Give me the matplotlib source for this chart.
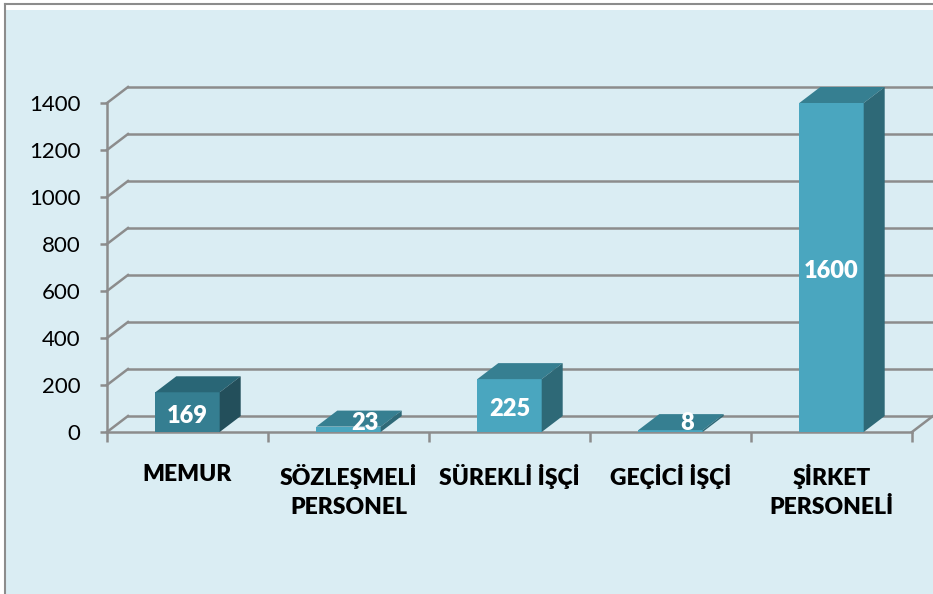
import numpy as np
import matplotlib
matplotlib.use('Agg')
import matplotlib.pyplot as plt
from matplotlib.patches import Polygon, Rectangle

plt.rcParams['font.family'] = ['Lato', 'DejaVu Sans']

categories = ['MEMUR', 'SÖZLEŞMELİ\nPERSONEL', 'SÜREKLİ İŞÇİ', 'GEÇİCİ İŞÇİ', 'ŞİRKET\nPERSONELİ']
values = [169, 23, 225, 8, 1600]
yticks = [0, 200, 400, 600, 800, 1000, 1200, 1400]

# front / top / side colours per bar
dark = ('#357e91', '#296676', '#234f5b')
light = ('#4aa6bf', '#367f91', '#2e6977')
bar_colors = [dark, light, light, light, light]

W, H = 933, 594
fig = plt.figure(figsize=(W / 100, H / 100), dpi=100)
fig.patch.set_facecolor('white')
# chart frame
fig.patches.append(Rectangle((5 / W, 0), 1, 1 - 10 / H, transform=fig.transFigure,
                             facecolor='#daedf3', edgecolor='none', zorder=-2))
fig.lines.append(plt.Line2D([4.5 / W, 4.5 / W], [0, 1 - 3.5 / H], transform=fig.transFigure,
                            color='#8c8c8c', lw=1.5))
fig.lines.append(plt.Line2D([4.5 / W, 1], [1 - 3.5 / H, 1 - 3.5 / H], transform=fig.transFigure,
                            color='#8c8c8c', lw=1.5))

x0, x1, ytop, ybot = 107, 912, 103, 432
ax = fig.add_axes([x0 / W, 1 - ybot / H, (x1 - x0) / W, (ybot - ytop) / H])
ax.set_facecolor('none')
ymax = 1400
ax.set_xlim(-0.5, len(categories) - 0.5)
ax.set_ylim(0, ymax)

# 3D depth in data units
ddx = 21 / ((x1 - x0) / len(categories))
ddy = 16 / ((ybot - ytop) / ymax)
gcol = '#8c8c8c'
xl, xr = -0.5, len(categories) - 0.5

for t in yticks:
    ax.plot([xl + ddx, xr + ddx], [t + ddy, t + ddy], color=gcol, lw=1.8, clip_on=False, zorder=1)
    ax.plot([xl, xl + ddx], [t, t + ddy], color=gcol, lw=1.8, clip_on=False, zorder=1)
ax.plot([xr, xr + ddx], [0, ddy], color=gcol, lw=1.8, clip_on=False, zorder=1)

bw = 0.4
for i, (v, cols) in enumerate(zip(values, bar_colors)):
    h = min(v, ymax)
    l, r = i - bw / 2, i + bw / 2
    front = Rectangle((l, 0), bw, h, facecolor=cols[0], edgecolor='none', zorder=3)
    top = Polygon([(l, h), (r, h), (r + ddx, h + ddy), (l + ddx, h + ddy)],
                  facecolor=cols[1], edgecolor='none', zorder=3, clip_on=False)
    side = Polygon([(r, 0), (r, h), (r + ddx, h + ddy), (r + ddx, ddy)],
                   facecolor=cols[2], edgecolor='none', zorder=3, clip_on=False)
    for p in (front, top, side):
        ax.add_patch(p)
    ly = max(h / 2 - 15, 40)
    lx = i + (ddx * 0.8 if v < 50 else 0)
    ax.text(lx, ly, str(v), color='white', fontsize=17, fontweight='heavy',
            ha='center', va='center', zorder=5, clip_on=False)

for s in ['top', 'right']:
    ax.spines[s].set_visible(False)
for s in ['left', 'bottom']:
    ax.spines[s].set_color(gcol)
    ax.spines[s].set_linewidth(1.8)
    ax.spines[s].set_zorder(2)

ax.set_yticks(yticks)
ax.set_yticklabels([str(t) for t in yticks], fontsize=16)
ax.set_xticks(np.arange(len(categories) + 1) - 0.5, minor=False)
ax.set_xticklabels([])
ax.set_xticks(np.arange(len(categories)), minor=True)
ax.set_xticklabels(categories, minor=True, fontsize=16.5, fontweight='heavy', linespacing=1.45, va='top')
ax.tick_params(axis='y', length=5, width=1.8, color=gcol, pad=14)
ax.tick_params(axis='x', which='major', length=7, width=1.8, color=gcol)
ax.tick_params(axis='x', which='minor', length=0, pad=23)

fig.savefig('out.png', dpi=100)
